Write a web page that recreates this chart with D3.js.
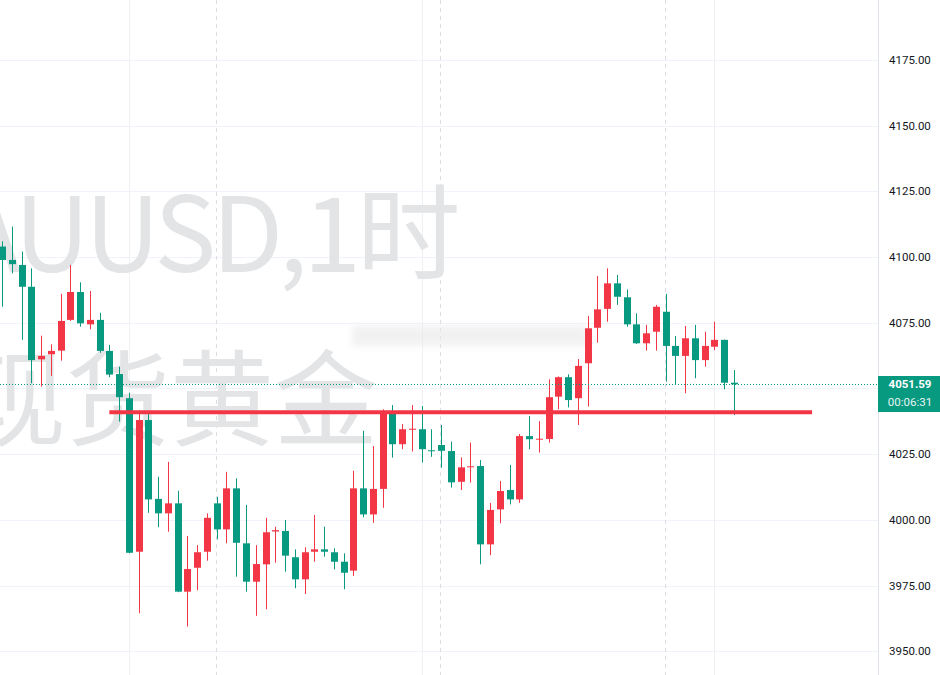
<!DOCTYPE html>
<html><head><meta charset="utf-8">
<script src="https://cdn.jsdelivr.net/npm/d3@7"></script>
<style>body{margin:0;background:#fff;} svg{display:block;}</style>
</head><body><svg id="c" width="940" height="675"></svg>
<script>
// ---- data (XAUUSD 1h) ----
const opens  = [4104.0,4098.9,4097.0,4088.7,4061.1,4063.0,4064.4,4076.1,4086.7,4074.4,4076.1,4064.3,4055.5,4046.3,3987.9,4038.0,4008.0,4002.5,4006.3,3972.7,3981.8,3987.9,4006.3,3996.4,4012.0,3991.1,3976.5,3983.1,3995.6,3995.8,3985.8,3977.4,3987.9,3988.8,3987.7,3984.1,3980.7,4012.0,4002.1,4011.8,4041.2,4028.8,4034.3,4034.5,4026.5,4028.5,4026.2,4014.5,4020.1,4020.5,3990.7,4004.0,4011.4,4007.8,4031.9,4030.6,4030.8,4046.9,4054.3,4046.3,4059.6,4073.1,4080.3,4090.0,4084.7,4074.4,4067.2,4071.6,4079.2,4066.2,4062.4,4069.1,4060.8,4065.9,4068.5,4052.2];
const highs  = [4106.0,4111.6,4102.1,4095.7,4070.1,4066.8,4086.0,4097.0,4090.4,4087.1,4078.8,4066.6,4058.3,4048.4,4041.6,4040.6,4016.4,4022.1,4011.1,3993.9,3990.4,4002.5,4008.8,4018.3,4015.8,4005.7,3990.4,4000.8,3997.4,4000.0,3988.8,3989.6,4001.9,3997.4,3989.2,3987.3,4018.7,4033.9,4028.1,4042.1,4043.7,4036.5,4043.7,4043.3,4034.5,4036.1,4029.8,4023.8,4029.4,4022.8,4006.5,4014.8,4020.9,4032.7,4039.5,4037.6,4053.5,4054.6,4055.4,4061.2,4077.6,4092.8,4095.7,4093.2,4087.7,4078.6,4074.2,4081.8,4086.0,4070.0,4073.8,4074.2,4071.6,4075.4,4068.6,4057.0];
const lows   = [4081.1,4093.8,4068.5,4052.0,4050.7,4054.8,4060.6,4075.7,4073.5,4072.5,4063.6,4054.3,4037.4,3987.3,3964.5,4002.7,3997.2,3995.5,3972.5,3959.4,3973.3,3984.5,3992.6,3991.1,3978.4,3972.7,3963.5,3966.0,3983.7,3980.3,3974.0,3971.8,3984.1,3986.0,3981.2,3973.6,3978.7,4001.0,3998.9,4004.6,4023.7,4026.9,4026.0,4021.8,4024.0,4019.9,4012.3,4011.4,4014.2,3983.1,3986.6,3998.7,4005.9,4006.5,4026.9,4025.6,4029.4,4042.1,4042.8,4036.1,4043.1,4067.4,4075.4,4081.8,4073.5,4066.9,4064.4,4064.4,4052.6,4051.7,4048.2,4053.9,4058.3,4064.6,4049.7,4039.9];
const closes = [4098.9,4097.3,4088.7,4060.8,4062.4,4064.3,4075.7,4086.7,4074.8,4076.1,4064.3,4055.3,4046.7,3987.5,4038.0,4007.8,4002.5,4006.3,3972.7,3981.3,3987.7,4000.8,3996.4,4012.0,3991.3,3976.5,3983.2,3995.3,3996.1,3986.4,3977.4,3987.7,3988.8,3987.9,3984.1,3979.9,4012.0,4002.1,4011.8,4040.9,4028.8,4034.5,4034.7,4026.9,4026.2,4026.3,4014.3,4020.0,4020.4,3990.7,4003.8,4011.0,4007.8,4031.9,4030.7,4030.9,4046.7,4054.3,4045.6,4058.6,4072.9,4080.1,4090.0,4084.9,4074.4,4067.2,4071.0,4081.1,4066.2,4062.4,4069.1,4060.8,4066.2,4068.5,4052.2,4051.59];
const priceTicks = [3950,3975,4000,4025,4050,4075,4100,4125,4150,4175];
const gridBars = [13,43,73];        // regular time grid lines (bar index)
const sessionBars = [22,45,68];     // session break lines (bar index)
const lastPrice = 4051.59;
const countdown = "00:06:31";
const levelPrice = 4041.0;          // drawn horizontal level
const levelFrom = 11, levelTo = 83; // bar index span of the level line
const watermark = ["XAUUSD,1时", "现货黄金"];

// ---- layout ----
const W = 940, H = 675, paneW = 878;
const svg = d3.select("#c");
const x = d3.scaleLinear().domain([0, 75]).range([2, 734]);
const y = d3.scaleLinear().domain([3941.0, 4197.8]).range([H, 0]);
const UP = "#f23645", DOWN = "#089981";

svg.append("rect").attr("width", W).attr("height", H).attr("fill", "#fff");
const defs = svg.append("defs");
defs.append("clipPath").attr("id", "pane").append("rect").attr("x", 0).attr("y", 0).attr("width", paneW).attr("height", H);
const blur = defs.append("filter").attr("id", "blur").attr("x", "-20%").attr("y", "-50%").attr("width", "140%").attr("height", "200%");
blur.append("feGaussianBlur").attr("stdDeviation", 3);

const pane = svg.append("g").attr("clip-path", "url(#pane)");

// horizontal grid
pane.selectAll("line.hg").data(priceTicks).join("line")
  .attr("x1", 0).attr("x2", paneW)
  .attr("y1", d => Math.round(y(d)) + 0.5).attr("y2", d => Math.round(y(d)) + 0.5)
  .attr("stroke", "#f0f3fa").attr("stroke-width", 1);
// vertical grid
pane.selectAll("line.vg").data(gridBars).join("line")
  .attr("x1", d => Math.round(x(d)) + 0.5).attr("x2", d => Math.round(x(d)) + 0.5)
  .attr("y1", 0).attr("y2", H)
  .attr("stroke", "#eef0f4").attr("stroke-width", 1);
pane.selectAll("line.sg").data(sessionBars).join("line")
  .attr("x1", d => Math.round(x(d)) - 0.5).attr("x2", d => Math.round(x(d)) - 0.5)
  .attr("y1", 0).attr("y2", H)
  .attr("stroke", "#dcdde0").attr("stroke-width", 1).attr("stroke-dasharray", "4,4");

// watermark
const wm = pane.append("g").attr("fill", "#e3e4e6")
  .attr("font-family", "'Noto Sans CJK SC', 'Noto Sans', sans-serif").attr("font-size", 104);
wm.append("text").attr("x", 456).attr("y", 272).attr("text-anchor", "end")
  .attr("letter-spacing", -4.5).text(watermark[0]);
wm.append("text").attr("x", 378).attr("y", 438).attr("text-anchor", "end").text(watermark[1]);

// blurred legend remnant
pane.append("rect").attr("x", 352).attr("y", 325).attr("width", 236).attr("height", 21)
  .attr("fill", "#e9e9eb").attr("filter", "url(#blur)").attr("opacity", 0.6);

// candles
const bars = d3.range(opens.length).map(i => ({i, o: opens[i], h: highs[i], l: lows[i], c: closes[i]}));
const cg = pane.append("g");
cg.selectAll("line.wick").data(bars).join("line")
  .attr("x1", d => Math.round(x(d.i)) + 0.5).attr("x2", d => Math.round(x(d.i)) + 0.5)
  .attr("y1", d => y(d.h)).attr("y2", d => y(d.l))
  .attr("stroke", d => d.c >= d.o ? UP : DOWN).attr("stroke-width", 1);
cg.selectAll("rect.body").data(bars).join("rect")
  .attr("x", d => Math.round(x(d.i)) - 3).attr("width", 7)
  .attr("y", d => y(Math.max(d.o, d.c)))
  .attr("height", d => Math.max(1, Math.abs(y(d.o) - y(d.c))))
  .attr("fill", d => d.c >= d.o ? UP : DOWN);

// level line
pane.append("line").attr("x1", x(levelFrom)).attr("x2", x(levelTo))
  .attr("y1", y(levelPrice)).attr("y2", y(levelPrice))
  .attr("stroke", UP).attr("stroke-width", 4);

// last price dotted line
pane.append("line").attr("x1", 0).attr("x2", paneW)
  .attr("y1", Math.round(y(lastPrice)) + 0.5).attr("y2", Math.round(y(lastPrice)) + 0.5)
  .attr("stroke", DOWN).attr("stroke-width", 1).attr("stroke-dasharray", "1,2");

// price axis
svg.append("line").attr("x1", paneW + 0.5).attr("x2", paneW + 0.5).attr("y1", 0).attr("y2", H)
  .attr("stroke", "#e0e3eb");
const yLast = y(lastPrice);
svg.append("g").selectAll("text").data(priceTicks.filter(d => Math.abs(y(d) - yLast) > 30)).join("text")
  .attr("x", 889).attr("y", d => y(d)).attr("dy", "0.35em")
  .attr("font-family", "Roboto, 'Liberation Sans', sans-serif").attr("font-size", 11.5)
  .attr("fill", "#131722").text(d => d3.format(".2f")(d));

// last price label
const lab = svg.append("g");
lab.append("rect").attr("x", paneW).attr("y", Math.round(yLast) - 8).attr("width", W - paneW).attr("height", 36)
  .attr("fill", DOWN);
lab.append("text").attr("x", 910).attr("y", yLast).attr("dy", "0.35em").attr("text-anchor", "middle")
  .attr("font-family", "Roboto, 'Liberation Sans', sans-serif").attr("font-size", 11.5).attr("font-weight", 700)
  .attr("fill", "#fff").text(d3.format(".2f")(lastPrice));
lab.append("text").attr("x", 910).attr("y", yLast + 18).attr("dy", "0.35em").attr("text-anchor", "middle")
  .attr("font-family", "Roboto, 'Liberation Sans', sans-serif").attr("font-size", 11.5)
  .attr("fill", "#e6f5f2").text(countdown);
</script></body></html>
